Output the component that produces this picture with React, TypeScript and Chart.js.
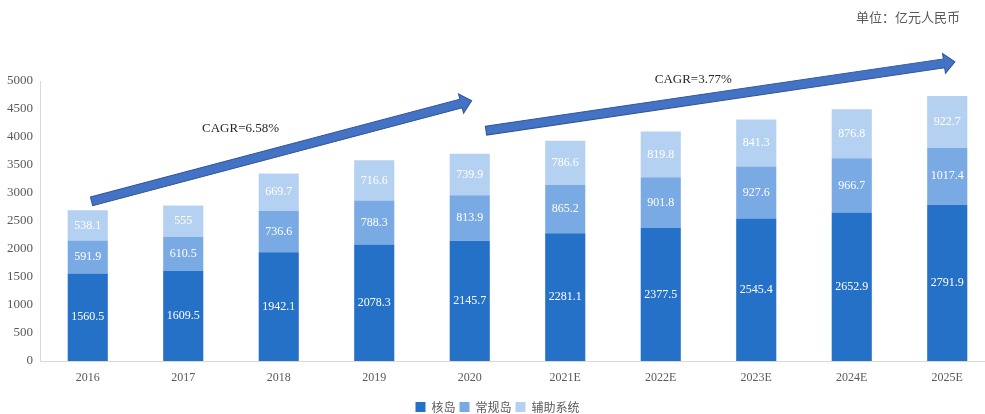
import React, { useEffect, useRef } from "react";
import { Chart, registerables } from "chart.js";

Chart.register(...registerables);

const categories = ["2016", "2017", "2018", "2019", "2020", "2021E", "2022E", "2023E", "2024E", "2025E"];
const nuclearIsland = [1560.5, 1609.5, 1942.1, 2078.3, 2145.7, 2281.1, 2377.5, 2545.4, 2652.9, 2791.9];
const conventionalIsland = [591.9, 610.5, 736.6, 788.3, 813.9, 865.2, 901.8, 927.6, 966.7, 1017.4];
const auxiliarySystems = [538.1, 555, 669.7, 716.6, 739.9, 786.6, 819.8, 841.3, 876.8, 922.7];
const seriesNames = ["核岛", "常规岛", "辅助系统"];
const unitLabel = "单位：亿元人民币";

// CAGR arrows anchored in data space: [categoryIndex, value]
const arrow1 = { from: [0.04, 2850], to: [4.02, 4648] };
const arrow2 = { from: [4.17, 4114], to: [9.08, 5343] };
const cagrLabels = [
  { text: "CAGR=6.58%", at: [1.6, 4150] },
  { text: "CAGR=3.77%", at: [6.34, 5022] },
];

const COLORS = ["#2571C8", "#7AAAE4", "#B5D1F1"];

const overlayPlugin = {
  id: "overlay",
  afterDatasetsDraw(chart: any) {
    const { ctx } = chart;
    const xs = chart.scales.x;
    const ys = chart.scales.y;
    // data labels
    ctx.save();
    ctx.font = "12px 'Liberation Serif', 'Times New Roman', serif";
    ctx.fillStyle = "#ffffff";
    ctx.textAlign = "center";
    ctx.textBaseline = "middle";
    chart.data.datasets.forEach((ds: any, i: number) => {
      const meta = chart.getDatasetMeta(i);
      meta.data.forEach((el: any, j: number) => {
        const cy = (el.y + el.base) / 2;
        ctx.fillText(String(ds.data[j]), el.x, cy);
      });
    });
    ctx.restore();

    // arrows
    const drawArrow = (a: any) => {
      const x1 = xs.getPixelForValue(a.from[0]);
      const y1 = ys.getPixelForValue(a.from[1]);
      const x2 = xs.getPixelForValue(a.to[0]);
      const y2 = ys.getPixelForValue(a.to[1]);
      const ang = Math.atan2(y2 - y1, x2 - x1);
      const len = Math.hypot(x2 - x1, y2 - y1);
      const shaft = 4.5;
      const head = 10;
      const headLen = 11;
      ctx.save();
      ctx.translate(x1, y1);
      ctx.rotate(ang);
      ctx.beginPath();
      ctx.moveTo(0, -shaft);
      ctx.lineTo(len - headLen, -shaft);
      ctx.lineTo(len - headLen, -head);
      ctx.lineTo(len, 0);
      ctx.lineTo(len - headLen, head);
      ctx.lineTo(len - headLen, shaft);
      ctx.lineTo(0, shaft);
      ctx.closePath();
      ctx.fillStyle = "#4472C4";
      ctx.fill();
      ctx.lineWidth = 1;
      ctx.strokeStyle = "#2F5597";
      ctx.stroke();
      ctx.restore();
    };
    drawArrow(arrow1);
    drawArrow(arrow2);

    ctx.save();
    ctx.font = "13px 'Liberation Serif', 'Times New Roman', serif";
    ctx.fillStyle = "#262626";
    ctx.textAlign = "center";
    ctx.textBaseline = "middle";
    cagrLabels.forEach((l) => {
      ctx.fillText(l.text, xs.getPixelForValue(l.at[0]), ys.getPixelForValue(l.at[1]));
    });
    ctx.restore();

    ctx.save();
    ctx.font = "13px 'Noto Sans CJK SC', sans-serif";
    ctx.fillStyle = "#595959";
    ctx.textAlign = "right";
    ctx.textBaseline = "middle";
    ctx.fillText(unitLabel, chart.width - 40, 17);
    ctx.restore();
  },
};

export default function App() {
  const ref = useRef<HTMLCanvasElement | null>(null);
  useEffect(() => {
    document.body.style.overflow = "hidden";
    document.documentElement.style.overflow = "hidden";
    const chart = new Chart(ref.current as HTMLCanvasElement, {
      type: "bar",
      data: {
        labels: categories,
        datasets: [
          { label: seriesNames[0], data: nuclearIsland, backgroundColor: COLORS[0] },
          { label: seriesNames[1], data: conventionalIsland, backgroundColor: COLORS[1] },
          { label: seriesNames[2], data: auxiliarySystems, backgroundColor: COLORS[2] },
        ],
      },
      options: {
        animation: false,
        responsive: false,
        maintainAspectRatio: false,
        layout: { padding: { top: 81, right: 5, left: 0, bottom: -9 } },
        datasets: { bar: { categoryPercentage: 1, barPercentage: 0.42 } },
        plugins: {
          legend: {
            position: "bottom",
            labels: {
              boxWidth: 10,
              boxHeight: 10,
              padding: 4,
              color: "#595959",
              font: { size: 12, family: "'Noto Sans CJK SC', sans-serif" },
            },
          },
          tooltip: { enabled: false },
        },
        scales: {
          x: {
            stacked: true,
            grid: { display: false, drawTicks: false },
            border: { display: true, color: "#D9D9D9" },
            ticks: {
              color: "#595959",
              padding: 10,
              font: { size: 12, family: "'Liberation Serif', 'Times New Roman', serif" },
            },
            afterFit: (s: any) => {
              s.height = 36;
            },
          },
          y: {
            stacked: true,
            min: 0,
            max: 5000,
            grid: { display: false, drawTicks: false },
            border: { display: true, color: "#D9D9D9" },
            ticks: {
              stepSize: 500,
              color: "#595959",
              padding: 7,
              font: { size: 13, family: "'Liberation Serif', 'Times New Roman', serif" },
              callback: (v: any) => String(v),
            },
            afterFit: (s: any) => {
              s.width = 40;
            },
          },
        },
      },
      plugins: [overlayPlugin],
    });
    return () => chart.destroy();
  }, []);
  return (
    <div style={{ position: "absolute", left: 0, top: 0, width: 1000, height: 414, background: "#fff" }}>
      <canvas ref={ref} width={1000} height={414} style={{ display: "block" }} />
    </div>
  );
}
